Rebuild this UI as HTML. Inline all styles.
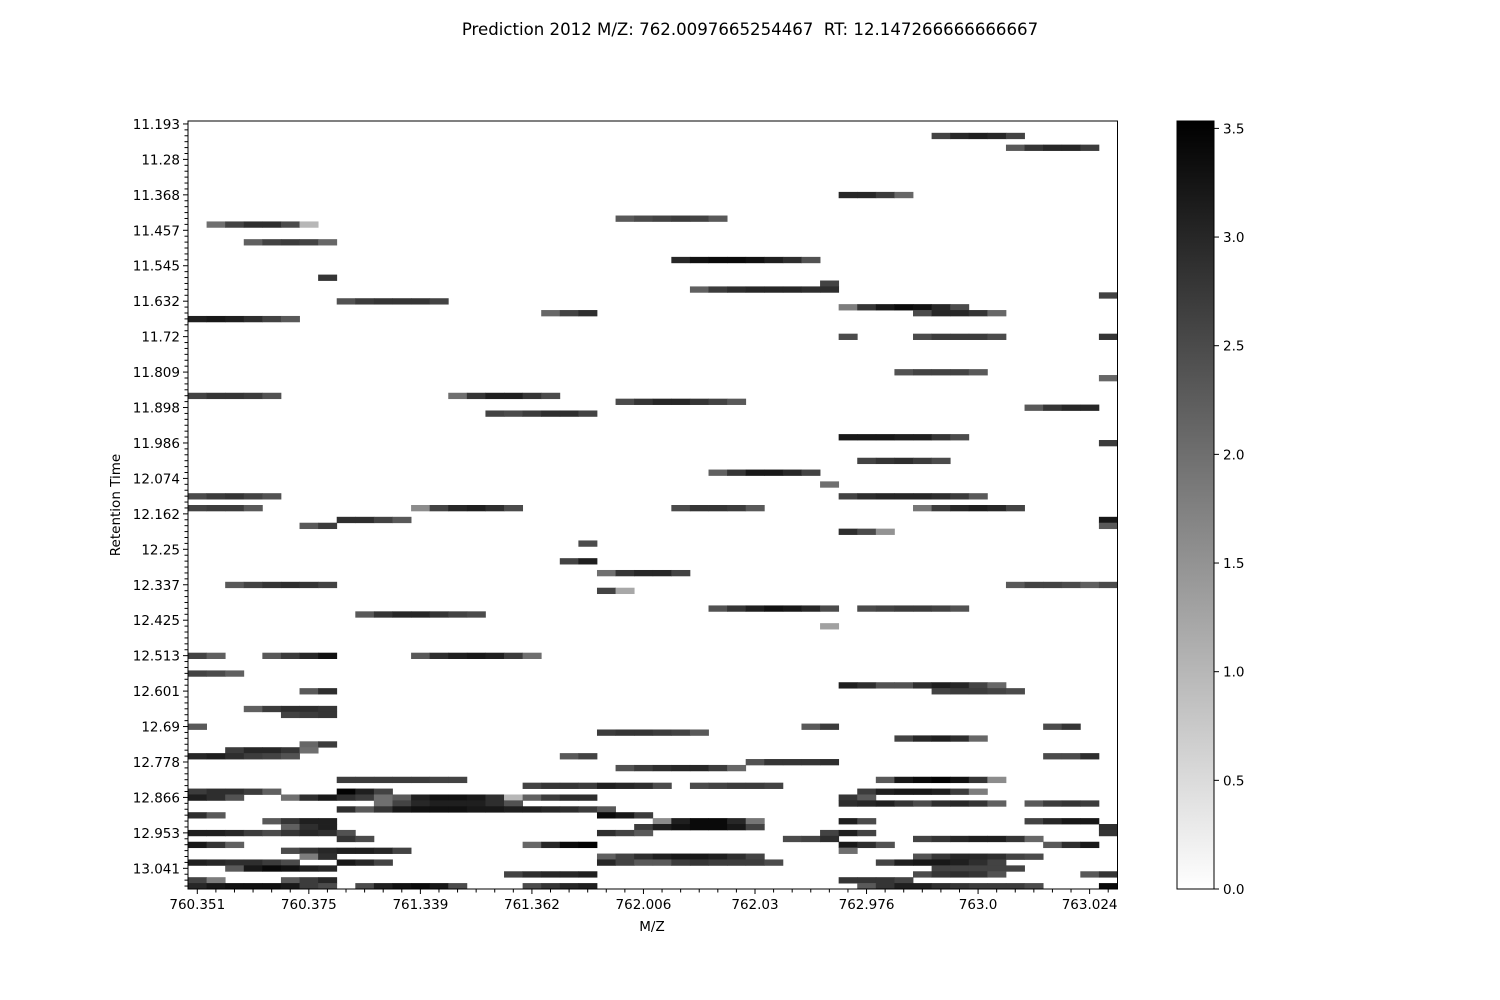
<!DOCTYPE html>
<html><head><meta charset="utf-8"><title>Prediction heatmap</title>
<style>
html,body{margin:0;padding:0;background:#fff;}
svg{display:block;font-family:"DejaVu Sans","Liberation Sans",sans-serif;}
</style></head>
<body>
<svg id="chart" width="1500" height="1000" viewBox="0 0 1500 1000" xmlns="http://www.w3.org/2000/svg">
<rect width="1500" height="1000" fill="#fff"/>
<text x="750" y="35" text-anchor="middle" font-size="16.6" fill="#000" xml:space="preserve">Prediction 2012 M/Z: 762.0097665254467  RT: 12.147266666666667</text>
<g id="cells"></g>
<g id="axes"></g>
<text x="652" y="931" text-anchor="middle" font-size="13.5">M/Z</text>
<text x="0" y="0" transform="translate(120,505) rotate(-90)" text-anchor="middle" font-size="13.5">Retention Time</text>
<defs><linearGradient id="cbg" x1="0" y1="1" x2="0" y2="0"><stop offset="0" stop-color="#fff"/><stop offset="1" stop-color="#000"/></linearGradient></defs>
<g id="colorbar"></g>
</svg>
<script>
const xTickLabels = ["760.351","760.375","761.339","761.362","762.006","762.03","762.976","763.0","763.024"];
const yTickLabels = ["11.193","11.28","11.368","11.457","11.545","11.632","11.72","11.809","11.898","11.986","12.074","12.162","12.25","12.337","12.425","12.513","12.601","12.69","12.778","12.866","12.953","13.041"];
const cbTicks = [0.0,0.5,1.0,1.5,2.0,2.5,3.0,3.5];
const nCols = 50, nRows = 130, vMax = 3.534;
const runRows = [2,4,12,16,17,20,23,26,27,28,29,30,31,32,32,33,36,36,36,42,43,46,46,47,48,49,53,54,57,59,61,63,63,65,65,65,65,67,67,68,68,69,71,74,76,78,78,79,82,82,83,85,
90,90,90,93,95,96,96,99,100,102,102,102,103,104,105,106,107,107,107,108,109,111,111,112,112,113,113,113,114,114,114,115,115,115,116,117,117,118,118,118,118,119,119,119,120,120,120,120,121,121,121,122,122,122,122,123,123,124,124,124,125,125,125,125,126,126,127,127,127,128,128,128,129,129,129,129,129];
const runStarts = [40,44,35,23,1,3,26,7,34,27,49,8,35,19,39,0,35,39,49,38,49,0,14,23,45,16,35,49,36,28,34,0,35,0,12,26,39,8,49,6,49,35,21,20,22,2,44,22,28,36,9,34,
0,4,12,0,35,6,40,3,5,0,33,46,22,38,6,2,0,20,46,30,23,8,37,18,27,0,8,36,0,5,35,10,35,45,8,0,22,4,25,35,45,5,24,49,0,22,34,49,8,32,39,0,18,35,46,5,35,6,22,39,0,8,22,37,2,40,17,39,48,0,5,35,0,9,18,36,49];
const runValues = [
[2.6,3.0,3.1,3.0,2.6],[2.3,2.8,3.0,3.0,2.7],[3.0,3.0,2.7,2.1],[2.3,2.5,2.6,2.7,2.6,2.3],[2.0,2.6,2.9,2.9,2.5,1.0],[2.2,2.6,2.7,2.6,2.1],
[3.0,3.3,3.4,3.4,3.3,3.1,2.9,2.4],[2.8],[2.6],[2.2,2.7,2.9,3.0,3.0,3.0,2.9,2.9],[2.6],[2.4,2.7,2.8,2.8,2.8,2.6],[1.8,2.8,3.2,3.4,3.3,3.0,2.5],
[2.1,2.6,2.9],[2.5,3.0,3.0,2.8,2.1],[3.1,3.2,3.1,2.9,2.6,2.3],[2.5],[2.5,2.7,2.7,2.7,2.5],[2.8],[2.4,2.6,2.6,2.6,2.3],[2.1],
[2.6,2.8,2.8,2.7,2.4],[2.0,2.8,3.1,3.1,2.8,2.5],[2.5,2.8,3.0,3.0,2.8,2.6,2.3],[2.3,2.8,3.0,3.0],[2.6,2.5,2.7,2.9,2.9,2.6],
[3.2,3.2,3.2,3.1,3.1,2.8,2.5],[2.7],[2.6,2.8,2.9,2.7,2.5],[2.2,2.8,3.2,3.2,3.0,2.6],[2.0],[2.5,2.7,2.8,2.6,2.4],[2.6,2.9,3.0,3.0,3.0,2.9,2.7,2.3],
[2.6,2.7,2.7,2.3],[1.6,2.6,3.0,3.1,2.9,2.5],[2.5,2.8,2.8,2.7,2.3],[1.9,2.7,3.0,3.1,3.0,2.6],[2.9,2.9,2.6,2.3],[3.2],[2.3,2.7],[2.3],[2.9,2.5,1.5],
[2.5],[2.6,3.1],[2.0,2.8,3.0,3.0,2.6],[2.3,2.6,2.8,2.9,2.8,2.6],[2.3,2.6,2.6,2.5,2.2,2.5],[2.6,1.2],[2.4,2.8,3.1,3.3,3.2,3.0,2.5],
[2.5,2.6,2.7,2.7,2.6,2.4],[2.3,2.8,3.0,3.0,2.8,2.6,2.5],[1.3],
[2.6,2.2],[2.3,2.7,3.0,3.3],[2.3,2.9,3.1,3.2,3.1,2.7,2.0],[2.6,2.5,2.2],[3.1,2.9,2.4,2.4,2.9,3.1,3.0,2.6,2.1],[2.3,2.9],[2.6,2.7,2.7,2.6,2.5],
[2.2,2.7,2.9,2.9,2.8],[2.6,2.7,2.8],[2.3],[2.3,2.7],[2.5,2.8],[2.7,2.8,2.8,2.7,2.6,2.3],[2.6,3.0,3.1,2.9,2.1],[2.1,2.7],[2.7,3.0,3.0,2.8,2.0],
[3.0,3.1,2.9,2.7,2.6,2.4],[2.3,2.6],[2.5,2.5,2.9],[2.4,2.8,2.8,2.8,2.9],[2.4,2.7,2.9,3.0,3.0,2.7,2.1],[2.7,2.7,2.7,2.7,2.7,2.6,2.6],
[2.3,3.2,3.4,3.5,3.3,2.8,1.6],[2.6,2.8,2.8,2.7,3.1,3.0,2.9,2.5],[2.5,2.6,2.7,2.7,2.6],[2.7,2.9,2.9,2.7,2.2],[3.5,3.1,2.6],[2.7,3.1,3.2,3.2,3.1,2.7,1.8],
[3.1,2.9,2.4],[2.0,2.9,3.2,2.9,2.7,2.0,2.3,3.1,3.3,3.3,3.2,2.9,1.0,2.2,2.7,2.9,2.9],[2.8,2.3],[2.0,2.6,3.0,3.1,3.1,3.1,2.9,2.4],
[2.9,3.0,3.1,2.8,2.5,2.9,3.0,2.8,2.2],[2.3,2.7,2.8,2.7],[2.9,2.3,2.8,3.2,3.3,3.3,3.3,3.2,3.2,3.1,3.1,3.0,2.9,2.7,2.3],[2.9,2.3],[3.4,3.2,2.7],
[2.3,2.8,3.1,3.1],[1.6,3.1,3.4,3.4,3.0,1.9],[3.1,2.5],[2.6,3.0,3.2,3.2],[2.2,2.9,3.1],[2.7,3.1,3.3,3.4,3.4,3.2,2.6],[2.9],
[3.1,3.1,3.0,2.7,2.5,2.8,3.0,2.9,2.4],[2.9,2.6,2.3],[2.6,3.1,2.6],[2.8],[2.8,2.5],[2.5,2.6,2.9],[2.6,2.8,3.0,3.1,3.1,2.8,2.1],
[3.2,2.8,2.2],[2.1,3.0,3.4,3.5],[3.2,2.9,2.4],[2.3,2.9,3.2],[2.5,2.8,3.0,3.1,3.1,3.0,2.6],[2.0],[1.8,2.9],[2.2,2.6,2.9,3.1,3.2,3.2,3.1,2.9,2.6],
[2.4,2.8,3.0,3.0,2.9,2.6,2.5],[3.1,3.0,2.9,2.9,2.7,2.5],[3.2,3.0,2.6],[3.0,2.6,2.3,2.3,2.7,2.8,2.7,2.7,2.7,2.5],[2.6,3.1,3.2,3.2,3.1,2.9,2.6],
[2.3,3.2,3.4,3.3,3.1,3.0],[2.6,2.6,2.6,2.6,2.6],[2.6,2.9,3.0,3.0,3.1],[2.5,2.8,2.9,2.8,2.4],[2.3,2.8],[2.6,1.8],[2.3,2.7,3.0],[2.8,2.8,2.8,2.6],
[3.0,3.2,3.3,3.3,3.3,3.2,2.7,2.5],[2.5,3.1,3.3,3.4,3.2,2.5],[2.5,2.8,3.0,3.1],[2.3,2.8,3.1,3.1,2.9,2.8,2.7,2.7,2.7,2.5],[3.4]
];

const NS = "http://www.w3.org/2000/svg";
const X0 = 188, X1 = 1117.5, Y0 = 121, Y1 = 889;
const cw = (X1 - X0) / nCols, rh = (Y1 - Y0) / nRows;
const xScale = c => X0 + c * cw;
const yScale = r => Y0 + r * rh;
const grayOf = v => { const g = Math.round(255 * (1 - Math.min(v, vMax) / vMax)); return `rgb(${g},${g},${g})`; };
function mk(tag, attrs, parent) { const e = document.createElementNS(NS, tag); for (const k in attrs) e.setAttribute(k, attrs[k]); parent.appendChild(e); return e; }

const cells = document.getElementById('cells');
runRows.forEach((r, i) => {
  runValues[i].forEach((v, j) => {
    const c = runStarts[i] + j;
    const el = mk('rect', {x: xScale(c), y: yScale(r), width: cw + 0.4, height: rh + 0.4, fill: grayOf(v)}, cells);
    
    
  });
});

const axes = document.getElementById('axes');
const frame = mk('rect', {x: X0, y: Y0, width: X1 - X0, height: Y1 - Y0, fill: 'none', stroke: '#000', 'stroke-width': 1}, axes);


for (let c = 0; c < nCols; c++) {
  const x = xScale(c + 0.5);
  const major = c % 6 === 0;
  const t = mk('line', {x1: x, y1: Y1, x2: x, y2: Y1 + (major ? 5 : 3.5), stroke: '#000', 'stroke-width': 1}, axes);
  
  
  if (major && xTickLabels[c / 6] !== undefined) {
    const tx = mk('text', {x: x, y: Y1 + 20, 'text-anchor': 'middle', 'font-size': 13.5}, axes);
    tx.textContent = xTickLabels[c / 6];
    
    
  }
}
for (let r = 0; r < nRows; r++) {
  const y = yScale(r + 0.5);
  const major = r % 6 === 0;
  const t = mk('line', {x1: X0, y1: y, x2: X0 - (major ? 5 : 3.5), y2: y, stroke: '#000', 'stroke-width': 1}, axes);
  
  
  if (major && yTickLabels[r / 6] !== undefined) {
    const tx = mk('text', {x: X0 - 8, y: y + 5, 'text-anchor': 'end', 'font-size': 13.5}, axes);
    tx.textContent = yTickLabels[r / 6];
    
    
  }
}

const cb = document.getElementById('colorbar');
const CX0 = 1177, CX1 = 1214;
const cbScale = v => Y1 - v / vMax * (Y1 - Y0);
const cbr = mk('rect', {x: CX0, y: Y0, width: CX1 - CX0, height: Y1 - Y0, fill: 'url(#cbg)', stroke: '#000', 'stroke-width': 1}, cb);


cbTicks.forEach(v => {
  const y = cbScale(v);
  const t = mk('line', {x1: CX1, y1: y, x2: CX1 + 5, y2: y, stroke: '#000', 'stroke-width': 1}, cb);
  
  
  const tx = mk('text', {x: CX1 + 9, y: y + 5, 'font-size': 13.5}, cb);
  tx.textContent = v.toFixed(1);
  
  
});
</script>
</body></html>
